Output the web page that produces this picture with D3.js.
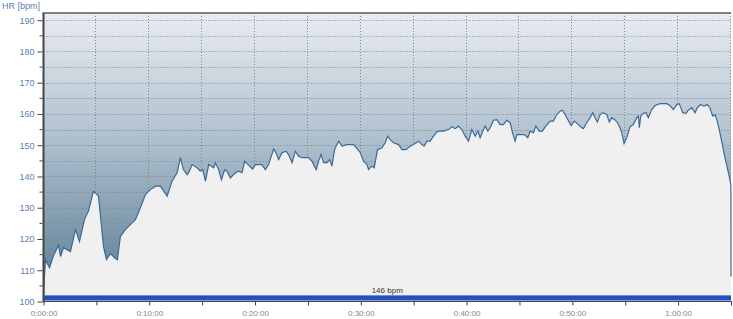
<!DOCTYPE html>
<html>
<head>
<meta charset="utf-8">
<script src="https://cdn.jsdelivr.net/npm/d3@7"></script>
<style>
  body { margin: 0; background: #fff; }
  text { font-family: "Liberation Sans", Arial, sans-serif; }
</style>
</head>
<body>
<div id="hr_chart"></div>
<script>
// time in minutes from start
var minutes = [0, 0.09, 0.19, 0.57, 0.94, 1.42, 1.61, 1.89, 2.55, 3.02, 3.40, 3.87, 4.25, 4.72, 5.20, 5.67, 5.95, 6.33, 6.71, 6.99,
  7.27, 7.75, 8.22, 8.69, 9.16, 9.64, 10.11, 10.58, 11.05, 11.69, 12.16, 12.63, 12.94, 13.23, 13.58, 13.79, 14.05, 14.52, 14.83, 15.05,
  15.31, 15.62, 16.09, 16.25, 16.56, 16.82, 17.13, 17.35, 17.67, 18.14, 18.45, 18.77, 19.02, 19.34, 19.77, 20.03, 20.66, 20.97, 21.28, 21.54,
  21.76, 21.98, 22.23, 22.55, 22.93, 23.17, 23.50, 23.81, 24.12, 24.44, 24.59, 25.06, 25.38, 25.79, 26.01, 26.24, 26.48, 26.80, 27.05, 27.27,
  27.52, 27.90, 28.22, 28.69, 29.32, 29.57, 29.95, 30.26, 30.58, 30.73, 31.05, 31.27, 31.58, 32.00, 32.31, 32.53, 32.78, 33.09, 33.57, 33.89,
  34.29, 34.67, 34.98, 35.46, 35.78, 35.99, 36.25, 36.56, 36.87, 37.19, 37.51, 37.82, 38.29, 38.61, 38.92, 39.23, 39.55, 39.87, 40.18, 40.50,
  40.81, 41.07, 41.28, 41.60, 41.76, 42.01, 42.23, 42.54, 42.86, 43.17, 43.49, 43.81, 44.12, 44.34, 44.59, 44.75, 45.47, 45.79, 46.01, 46.32,
  46.55, 46.86, 47.17, 47.49, 47.90, 48.21, 48.53, 48.84, 49.06, 49.32, 49.57, 49.88, 50.19, 50.57, 50.89, 51.04, 51.36, 51.68, 51.93, 52.15,
  52.37, 52.62, 52.93, 53.25, 53.50, 53.72, 54.04, 54.26, 54.51, 54.67, 54.89, 55.14, 55.45, 55.77, 56.09, 56.24, 56.33, 56.47, 56.71, 56.97,
  57.18, 57.51, 57.82, 58.29, 58.92, 59.23, 59.55, 59.87, 60.11, 60.43, 60.75, 60.96, 61.28, 61.60, 61.81, 62.13, 62.44, 62.76, 63.01, 63.27,
  63.49, 63.70, 63.95, 64.21, 64.43, 64.65, 64.90, 64.99, 65.0]
// heart rate (bpm)
var hr = [101, 108, 113.3, 110.8, 114.6, 118, 114.4, 117.2, 116, 123, 119.2, 126.2, 128.9, 135.3, 133.7, 117.6, 113.4, 115.3, 114, 113.4,
  120.8, 123, 124.6, 126.2, 130, 134.2, 135.8, 136.9, 136.9, 133.7, 138.5, 141.2, 146, 142.2, 140.6, 141.7, 143.8, 142.8, 141.7, 142.2,
  138.5, 143.8, 142.8, 144.4, 142.2, 139, 142.2, 141.7, 139.5, 141.2, 141.7, 141.2, 144.9, 143.8, 142.4, 143.8, 143.8, 142.2, 143.8, 146.5,
  148.8, 147.6, 145.4, 147.6, 148.1, 147, 144.4, 148.1, 146.5, 146, 146, 146, 144.9, 142.2, 144.9, 147, 144.4, 144.4, 145.4, 143.3,
  148.6, 151.3, 149.7, 150.2, 150.2, 149.2, 147.6, 144.9, 143.8, 142.2, 143.3, 142.8, 148.6, 149.2, 150.8, 152.9, 151.8, 150.8, 150.2, 148.6,
  148.6, 149.7, 150.2, 151.3, 150.2, 149.7, 151.3, 151.3, 152.9, 154.3, 154.5, 154.5, 155, 155.9, 155.3, 156.1, 155, 152.9, 151.3, 155,
  152.9, 154.5, 152.4, 155, 156.1, 154.5, 155.6, 158, 158.2, 156.6, 156.6, 158, 157.2, 154, 151.3, 153.4, 153.4, 152.4, 154.5, 154,
  156.1, 154.5, 154.5, 156.1, 157.7, 157.7, 159.8, 160.9, 161.2, 159.8, 158.2, 156.3, 157.7, 156.6, 155.6, 155.3, 157.2, 158.8, 160.4, 158.8,
  157.4, 159.8, 160.4, 159.8, 157.4, 158.8, 158.1, 157.2, 155.6, 154, 150.5, 152.4, 155.9, 156.6, 158.8, 159.3, 155.6, 159.3, 160.2, 160.4,
  158.8, 161.4, 162.7, 163.3, 163.3, 162.7, 161.4, 163, 163.3, 160.4, 160.2, 161.2, 162, 160.4, 162, 163, 162.5, 163, 162, 159.3,
  159.8, 157.7, 154, 149.7, 146, 142.8, 139, 137, 108]

var yTicks = [100, 110, 120, 130, 140, 150, 160, 170, 180, 190]
var xTickLabels = ["0:00:00", "0:10:00", "0:20:00", "0:30:00", "0:40:00", "0:50:00", "1:00:00"]
var avgLabel = "146 bpm"
var yTitle = "HR [bpm]"

var data = minutes.map(function(m, i) { return {t: m, hr: hr[i]}; })

var width = 733, height = 319
var margin = {left: 43.5, right: 731, top: 13, bottom: 301.5}

var svg = d3.select("#hr_chart")
  .append("svg")
    .attr("width", width)
    .attr("height", height)

var x = d3.scaleLinear().domain([0, 65]).range([margin.left, margin.right])
var y = d3.scaleLinear().domain([100, 192.3]).range([margin.bottom, margin.top])

// background gradient
var defs = svg.append("defs")
var grad = defs.append("linearGradient")
  .attr("id", "bg")
  .attr("x1", 0).attr("y1", 0).attr("x2", 0).attr("y2", 1)
grad.append("stop").attr("offset", "0%").attr("stop-color", "#e9ecf1")
grad.append("stop").attr("offset", "45%").attr("stop-color", "#adbfcd")
grad.append("stop").attr("offset", "100%").attr("stop-color", "#55798f")

svg.append("rect")
  .attr("x", margin.left).attr("y", margin.top)
  .attr("width", margin.right - margin.left).attr("height", margin.bottom - margin.top)
  .attr("fill", "url(#bg)")

// grid (every 5 bpm / every 5 minutes)
var hGrid = d3.range(105, 192, 5)
svg.append("g")
  .selectAll("line")
  .data(hGrid)
  .enter().append("line")
    .attr("x1", margin.left).attr("x2", margin.right)
    .attr("y1", function(d) { return Math.round(y(d)) + 0.5; })
    .attr("y2", function(d) { return Math.round(y(d)) + 0.5; })
    .attr("stroke", "#7d8790")
    .attr("stroke-dasharray", "1,2")

var vGrid = d3.range(5, 66, 5)
svg.append("g")
  .selectAll("line")
  .data(vGrid)
  .enter().append("line")
    .attr("x1", function(d) { return Math.round(x(d)) - 0.5; })
    .attr("x2", function(d) { return Math.round(x(d)) - 0.5; })
    .attr("y1", margin.top).attr("y2", margin.bottom)
    .attr("stroke", "#7d8790")
    .attr("stroke-dasharray", "1,2")

// area under the curve
var area = d3.area()
  .x(function(d) { return x(d.t); })
  .y0(y(100))
  .y1(function(d) { return y(d.hr); })

svg.append("path")
  .datum(data)
  .attr("d", area)
  .attr("fill", "#f0f0f0")

var line = d3.line()
  .x(function(d) { return x(d.t); })
  .y(function(d) { return y(d.hr); })

svg.append("path")
  .datum(data)
  .attr("d", line)
  .attr("fill", "none")
  .attr("stroke", "#3c6a98")
  .attr("stroke-width", 1.2)

// average bar
svg.append("rect")
  .attr("x", margin.left).attr("y", 295.5)
  .attr("width", margin.right - margin.left).attr("height", 5)
  .attr("fill", "#2350c2")
svg.append("line")
  .attr("x1", margin.left).attr("x2", margin.right)
  .attr("y1", 295.5).attr("y2", 295.5)
  .attr("stroke", "#6d8fd8")
svg.append("text")
  .attr("x", (margin.left + margin.right) / 2)
  .attr("y", 293)
  .attr("text-anchor", "middle")
  .style("font-size", "8px")
  .style("fill", "#333")
  .text(avgLabel)

// frame
svg.append("line")
  .attr("x1", margin.left - 1).attr("x2", margin.right)
  .attr("y1", margin.top).attr("y2", margin.top)
  .attr("stroke", "#5a5a5a").attr("stroke-width", 1.5)
svg.append("line")
  .attr("x1", margin.left).attr("x2", margin.left)
  .attr("y1", margin.top).attr("y2", margin.bottom + 1)
  .attr("stroke", "#444").attr("stroke-width", 2)
svg.append("line")
  .attr("x1", margin.left).attr("x2", margin.right + 1)
  .attr("y1", margin.bottom).attr("y2", margin.bottom)
  .attr("stroke", "#444").attr("stroke-width", 1)

// y axis
var yAxis = svg.append("g")
  .attr("transform", "translate(" + (margin.left - 1) + ",0)")
  .call(d3.axisLeft(y).tickValues(yTicks).tickSize(5).tickPadding(3))
yAxis.select(".domain").remove()
yAxis.selectAll("line").attr("stroke", "#444")
yAxis.selectAll("text")
  .style("font-size", "9px")
  .style("font-family", "Liberation Sans, Arial, sans-serif")
  .style("fill", "#5a7fae")

svg.append("g")
  .selectAll("line")
  .data(d3.range(105, 192, 10))
  .enter().append("line")
    .attr("x1", margin.left - 4).attr("x2", margin.left - 1)
    .attr("y1", function(d) { return y(d); })
    .attr("y2", function(d) { return y(d); })
    .attr("stroke", "#444")

svg.append("text")
  .attr("x", 2).attr("y", 9)
  .style("font-size", "9px")
  .style("fill", "#5a7fae")
  .text(yTitle)

// x axis
var xAxis = svg.append("g")
  .attr("transform", "translate(0," + margin.bottom + ")")
  .call(d3.axisBottom(x).tickValues(d3.range(0, 66, 5)).tickSize(4).tickPadding(5)
    .tickFormat(function(d) { return d % 10 == 0 ? xTickLabels[d / 10] : ""; }))
xAxis.select(".domain").remove()
xAxis.selectAll("line").attr("stroke", "#444")
xAxis.selectAll("text")
  .style("font-size", "8px")
  .style("font-family", "Liberation Sans, Arial, sans-serif")
  .style("fill", "#888")
</script>
</body>
</html>
